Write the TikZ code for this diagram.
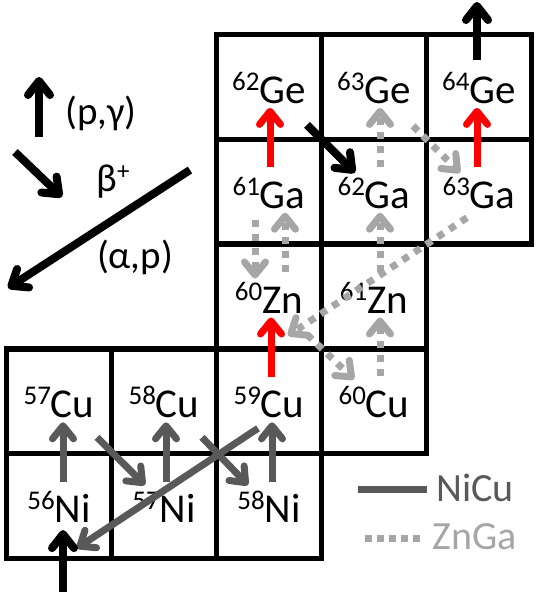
\documentclass[tikz,border=0pt]{standalone}
\usepackage{fontspec}
\setmainfont{Carlito}
\usetikzlibrary{arrows.meta,calc}
\definecolor{dgray}{HTML}{595959}
\definecolor{lgray}{HTML}{A6A6A6}
\definecolor{pgred}{HTML}{FF0000}
\newcommand{\nuc}[2]{\raisebox{13pt}{\fontsize{27}{27}\selectfont #1}#2}
\begin{document}
\begin{tikzpicture}[x=1pt,y=-1pt,
  cell/.style={draw, line width=5.5pt, rectangle, minimum width=105pt, minimum height=104.8pt,
    inner sep=0pt, text height=33pt, text depth=0pt, font=\fontsize{41}{48}\selectfont},
  lab/.style={font=\fontsize{39}{46}\selectfont, anchor=base, inner sep=0pt},
  leg/.style={font=\fontsize{40}{48}\selectfont, anchor=base, inner sep=0pt},
  tipn/.style={-{Straight Barb[length=13pt,width=21pt,round]}},
  tipb/.style={-{Straight Barb[length=14pt,width=22pt,round]}},
  redarr/.style={tipn, pgred, line width=7pt},
  blkarr/.style={tipb, black, line width=8pt},
  nicu/.style={tipn, dgray, line width=7pt},
  znga/.style={tipn, lgray, line width=7pt, dash pattern=on 7pt off 7pt},
]
\useasboundingbox (0,0) rectangle (538,592);

% cells
\node[cell] (Ge62) at (269,86.9) {\nuc{62}{Ge}};
\node[cell] (Ge63) at (374,86.9) {\nuc{63}{Ge}};
\node[cell] (Ge64) at (479,86.9) {\nuc{64}{Ge}};
\node[cell] (Ga61) at (269,191.7) {\nuc{61}{Ga}};
\node[cell] (Ga62) at (374,191.7) {\nuc{62}{Ga}};
\node[cell] (Ga63) at (479,191.7) {\nuc{63}{Ga}};
\node[cell] (Zn60) at (269,296.5) {\nuc{60}{Zn}};
\node[cell] (Zn61) at (374,296.5) {\nuc{61}{Zn}};
\node[cell] (Cu57) at (59,401.3) {\nuc{57}{Cu}};
\node[cell] (Cu58) at (164,401.3) {\nuc{58}{Cu}};
\node[cell] (Cu59) at (269,401.3) {\nuc{59}{Cu}};
\node[cell] (Cu60) at (374,401.3) {\nuc{60}{Cu}};
\node[cell] (Ni56) at (59,506.1) {\nuc{56}{Ni}};
\node[cell] (Ni57) at (164,506.1) {\nuc{57}{Ni}};
\node[cell] (Ni58) at (269,506.1) {\nuc{58}{Ni}};

% legend (reaction types)
\node[lab] (pg) at (101,124) {(p,γ)};
\node[lab] (bp) at (113,191) {β\raisebox{12pt}{\fontsize{25}{25}\selectfont +}};
\node[lab] (ap) at (135,268) {(α,p)};
\coordinate (pgA) at (39,137); \coordinate (pgB) at (39,77);
\coordinate (bA) at (15,152); \coordinate (bB) at (62,197);
\coordinate (aA) at (190,170); \coordinate (aB) at (8,288);
\draw[blkarr] (pgA) -- (pgB);
\draw[blkarr] (bA) -- (bB);
\draw[blkarr] (aA) -- (aB);

% ZnGa path (dotted)
\draw[znga] ($(Cu60)+(6,-25)$) -- ($(Zn61)+(6,21)$);
\draw[znga] ($(Zn61)+(6,-25)$) -- ($(Ga62)+(6,21)$);
\draw[znga] ($(Ga62)+(6,-25)$) -- ($(Ge63)+(6,21)$);
\draw[znga] ($(Ge63)+(39,39)$) -- ($(Ga63)+(-19,-19)$);
\draw[znga] ($(Ga63)+(-12,26)$) -- ($(Zn60)+(19,39)$);
\draw[znga] ($(Zn60)+(16,-25)$) -- ($(Ga61)+(16,21)$);
\draw[znga] ($(Ga61)+(-14,28)$) -- ($(Zn60)+(-14,-18)$);
\draw[znga] ($(Zn60)+(38,38)$) -- ($(Cu60)+(-20,-22)$);

% NiCu path
\draw[nicu] ($(Ni56)+(4,-24)$) -- ($(Cu57)+(4,21)$);
\draw[nicu] ($(Ni57)+(2,-24)$) -- ($(Cu58)+(2,21)$);
\draw[nicu] ($(Ni58)+(3,-24)$) -- ($(Cu59)+(3,21)$);
\draw[nicu] ($(Cu57)+(38,36)$) -- ($(Ni57)+(-19,-21)$);
\draw[nicu] ($(Cu58)+(38,36)$) -- ($(Ni58)+(-21,-21)$);
\draw[nicu] ($(Cu59)+(-11,27)$) -- ($(Ni56)+(18,42)$);

% red (p,gamma)
\draw[redarr] ($(Ga61)+(1,-25)$) -- ($(Ge62)+(1,21)$);
\draw[redarr] ($(Ga63)+(-2,-25)$) -- ($(Ge64)+(-2,21)$);
\draw[redarr] ($(Cu59)+(2,-24)$) -- ($(Zn60)+(2,21)$);

% black arrows in chart
\coordinate (inflow) at (63,592);
\coordinate (outflow) at (477,2);
\draw[blkarr] (inflow) -- ($(Ni56)+(4,24)$);
\draw[blkarr] ($(Ge64)+(-2,-27)$) -- (outflow);
\draw[blkarr] ($(Ge62)+(38,38)$) -- ($(Ga62)+(-19,-19)$);

% legend (paths)
\node[leg, text=dgray] (lnicu) at (475,501) {NiCu};
\node[leg, text=lgray] (lznga) at (475,549) {ZnGa};
\draw[dgray, line width=7pt] ($(lnicu.west)+(-78,2)$) -- ($(lnicu.west)+(-9,2)$);
\draw[lgray, line width=7pt, dash pattern=on 7pt off 5pt] ($(lznga.west)+(-68,2)$) -- ($(lznga.west)+(-9,2)$);
\end{tikzpicture}
\end{document}
